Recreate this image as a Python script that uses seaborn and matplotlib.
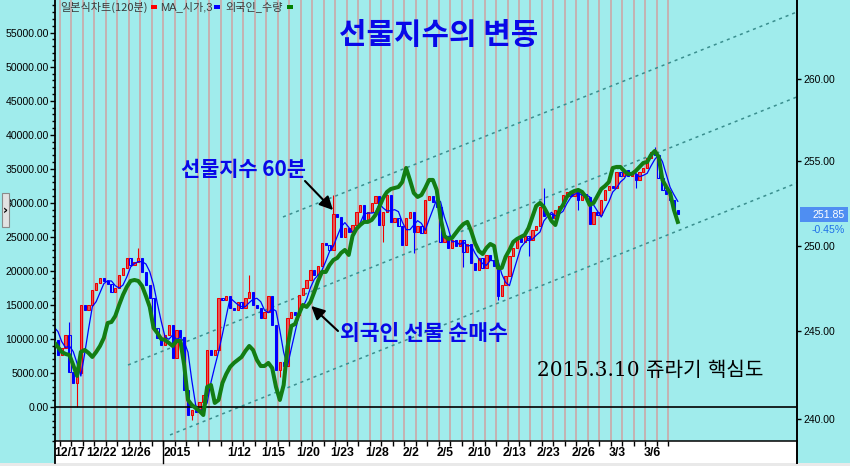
import numpy as np
import pandas as pd
import matplotlib
matplotlib.use("Agg")
import matplotlib.pyplot as plt
import seaborn as sns
from matplotlib import font_manager as fm
from matplotlib.patches import Rectangle
from matplotlib.lines import Line2D
from matplotlib.ticker import FixedLocator, NullLocator, MultipleLocator, FuncFormatter

# ---------------- data ----------------
trade_days = ["12/16", "12/17", "12/18", "12/19", "12/22", "12/23", "12/24", "12/26", "12/29", "12/30",
              "1/2", "1/5", "1/6", "1/7", "1/8", "1/9", "1/12", "1/13", "1/14", "1/15", "1/16",
              "1/19", "1/20", "1/21", "1/22", "1/23", "1/26", "1/27", "1/28", "1/29", "1/30",
              "2/2", "2/3", "2/4", "2/5", "2/6", "2/9", "2/10", "2/11", "2/12", "2/13", "2/16",
              "2/17", "2/23", "2/24", "2/25", "2/26", "2/27",
              "3/2", "3/3", "3/4", "3/5", "3/6", "3/9", "3/10"]
bars_per_day = 3

# KOSPI200 futures, 120-minute bars (close of each bar)
futures_open0 = 245.40
futures_close = [
    245.08, 244.51, 243.65,  244.05, 244.80, 242.67,  242.04, 242.61, 246.53,
    246.24, 246.53, 247.40,  247.81, 248.10, 247.92,  247.75, 247.28, 247.51,
    248.27, 248.69, 249.27,  248.86, 249.04, 249.27,  248.45, 247.69, 246.94,
    245.20, 244.62, 244.22,  244.80, 245.37, 243.47,  245.08, 244.68, 241.64,
    240.23, 240.51, 240.40,  240.96, 241.36, 243.93,  243.65, 243.93, 246.94,
    246.82, 247.05, 246.36,  246.24, 246.70, 246.36,  246.94, 247.28, 246.53,
    246.36, 245.78, 246.12,  247.05, 245.37, 242.78,  243.24, 243.01, 245.78,
    246.12, 245.95, 247.11,  247.51, 247.98, 248.57,  248.27, 248.80, 250.15,
    250.03, 249.74, 251.87,  251.69, 250.51, 251.04,  250.80, 251.21, 251.98,
    252.40, 251.39, 251.98,  252.52, 252.94, 251.21,  251.98, 253.00, 251.39,
    251.63, 251.16, 250.03,  251.63, 251.98, 250.80,  251.16, 250.74, 252.70,
    252.94, 252.58, 252.28,  250.21, 250.57, 249.86,  250.33, 249.98, 250.33,
    249.62, 250.09, 248.98,  248.57, 249.27, 248.69,  249.45, 249.15, 248.80,
    247.05, 247.69, 248.22,  249.39, 249.86, 250.45,  250.21, 250.57, 250.33,
    250.92, 251.16, 252.28,  251.75, 251.87, 251.63,  252.10, 252.34, 253.00,
    253.17, 252.94, 253.29,  252.70, 253.06, 252.88,  251.27, 251.98, 251.81,
    252.70, 253.29, 253.53,  253.41, 254.37, 254.13,  254.49, 254.13, 254.25,
    253.89, 254.37, 254.61,  255.21, 255.57, 255.39,  254.01, 253.29, 253.06,
    252.70, 252.10, 251.85,
]
# long shadows (bar index, high, low)
wick_bar = [5, 7, 23, 37, 52, 60, 74, 87, 95, 108, 117, 125, 129, 138, 153, 158]
wick_high = [245.55, None, 249.86, None, 248.27, None, 253.00, None, None, None,
             None, None, 253.41, None, None, 255.87]
wick_low = [None, 240.68, None, 239.94, None, 242.40, None, 250.21, 249.56, 248.75,
            246.82, 249.39, None, 252.10, 253.41, None]

# foreign net futures position (contracts), one value per bar
foreign_net = [
    9850, 9550, 8820, 8080, 7790, 7640, 6170, 4560, 8080, 8380,
    7940, 7350, 8080, 8960, 10140, 12340, 12490, 13370, 14990, 16460,
    17630, 18520, 18660, 18520, 17780, 16310, 14700, 11610, 10870, 9990,
    9850, 9400, 8960, 9700, 9700, 6170, 1030, 290, -150, -590,
    -1180, 2940, 3230, 590, 1030, 3530, 4850, 5880, 6470, 6910,
    7350, 8230, 8960, 8380, 6910, 6020, 6020, 6470, 5730, 2940,
    1030, 3230, 8820, 11900, 12200, 13670, 14990, 14700, 15430, 16900,
    18520, 19840, 19840, 20870, 21600, 21900, 22630, 23070, 22340, 25130,
    26160, 26740, 27190, 27190, 27480, 28210, 29390, 30710, 31590, 32030,
    32180, 32330, 33060, 35120, 33360, 31450, 30860, 31150, 32180, 33360,
    33360, 31890, 27770, 25130, 24690, 24830, 25570, 26300, 26890, 27190,
    25860, 24100, 22920, 22480, 23370, 23950, 23660, 20430, 20430, 22040,
    23070, 24250, 24690, 24980, 25280, 26300, 27920, 29540, 29980, 29390,
    28360, 27330, 26740, 28800, 29680, 30860, 31450, 31740, 31890, 31590,
    30860, 29680, 29980, 31010, 32030, 32480, 33060, 35120, 35270, 35270,
    34680, 34240, 34240, 34680, 35270, 35860, 36000, 37030, 37620, 36740,
    33360, 32330, 31450, 28950, 27190,
]

tick_days = ["12/17", "12/22", "12/26", "1/2", "1/12", "1/15", "1/20", "1/23", "1/28",
             "2/2", "2/5", "2/10", "2/13", "2/23", "2/26", "3/3", "3/6"]
tick_text = ["12/17", "12/22", "12/26", "2015", "1/12", "1/15", "1/20", "1/23", "1/28",
             "2/2", "2/5", "2/10", "2/13", "2/23", "2/26", "3/3", "3/6"]
left_ticks = [0, 5000, 10000, 15000, 20000, 25000, 30000, 35000, 40000, 45000, 50000, 55000]
right_ticks = [240, 245, 250, 255, 260]

# trend channel (day position, price)
channel_start_day = [20.44, 6.94, 10.60]
channel_start_price = [251.69, 243.07, 239.10]
channel_end_day = [65.2, 65.2, 65.2]
channel_end_price = [264.13, 258.90, 253.71]

last_price = 251.85
last_change = "-0.45%"
year_day = "1/2"

# ---------------- style ----------------
BG = "#A0ECEC"
GRID = "#C4B2B2"
UPF, UPE = "#E25A5A", "#F00000"
DNE = "#0000FF"
GREEN = "#137D13"
CHAN = "#3A8E8E"
BLUE_TXT = "#0808E8"

plt.rcParams["font.family"] = ["Liberation Sans", "Noto Sans CJK KR", "DejaVu Sans"]
names = {f.name for f in fm.fontManager.ttflist}
if "Liberation Sans Narrow" in names:
    XFAM, XSIZE = "Liberation Sans Narrow", 10
else:
    XFAM, XSIZE = "Liberation Sans", 8.8

W, H = 850, 466
def fx(x):
    return x / W
def fy(y):
    return 1 - y / H

fig = plt.figure(figsize=(W / 100, H / 100), dpi=100, facecolor=BG)
ax = fig.add_axes([fx(55), fy(441), fx(797) - fx(55), fy(0) - fy(441)])
ax.set_facecolor(BG)
ax2 = ax.twinx()
ax.yaxis.tick_right()
ax2.yaxis.tick_left()

n = len(futures_close)
xpos = np.arange(n) / bars_per_day + 1 / (2 * bars_per_day)
close = np.array(futures_close)
opens = np.r_[futures_open0, close[:-1]]
hi = np.maximum(opens, close)
lo = np.minimum(opens, close)
for b, h, l in zip(wick_bar, wick_high, wick_low):
    if h is not None:
        hi[b] = max(hi[b], h)
    if l is not None:
        lo[b] = min(lo[b], l)
up = close >= opens

# ---- price axes (right, log) ----
ax.set_yscale("log")
ax.set_xlim(0.58, 65.22)
ax.set_ylim(238.76, 264.88)

bounds = np.arange(1, len(trade_days))
ax.vlines(bounds, 0, 1, transform=ax.get_xaxis_transform(), color=GRID, lw=1.4, zorder=0.5)
for x0, p0, x1, p1 in zip(channel_start_day, channel_start_price, channel_end_day, channel_end_price):
    ax.plot([x0, x1], [p0, p1], color=CHAN, lw=1.1, ls=(0, (2, 2.6)), zorder=1)

edges = np.where(up, UPE, DNE)
faces = [UPF if u else (0, 0, 0, 0) for u in up]
ax.vlines(xpos, lo, hi, colors=edges, lw=0.8, zorder=2.9)
body_lo = np.minimum(opens, close)
body_h = np.maximum(np.abs(close - opens), 0.03)
ax.bar(xpos, body_h, bottom=body_lo, width=0.2, color=faces, edgecolor=edges, linewidth=0.75, zorder=3)

ma = pd.Series(opens).rolling(3, min_periods=1).mean().values
sns.lineplot(x=xpos, y=ma, ax=ax, color="#0000FF", lw=0.9, legend=False, zorder=4)

ax.yaxis.set_major_locator(FixedLocator(right_ticks))
ax.yaxis.set_major_formatter(FuncFormatter(lambda v, p: f"{v:.2f}"))
ax.yaxis.set_minor_locator(NullLocator())
ax.tick_params(axis="y", which="major", direction="out", length=2.9, width=1, pad=1.5,
               labelsize=7.5, colors="black")
ax.set_ylabel("")
ax.set_xlabel("")

# x axis
lab_pos = [trade_days.index(d) + 0.6 for d in tick_days]
lab_pos[0] = trade_days.index(tick_days[0]) + 0.85
lab_pos[tick_days.index(year_day)] = trade_days.index(year_day) + 0.05
ax.set_xticks(bounds, minor=True)
ax.set_xticks(lab_pos, labels=tick_text)
ax.tick_params(axis="x", which="major", length=0, pad=4.2)
ax.tick_params(axis="x", which="minor", length=3.8, width=1, color="black", direction="out")
for t in ax.get_xticklabels():
    t.set_fontfamily(XFAM)
    t.set_fontsize(XSIZE)
    t.set_fontweight("bold")
    if t.get_text() == "2015":
        t.set_ha("left")
yd = trade_days.index(year_day)
ax.plot([yd, yd], [0, -22 / 441], transform=ax.get_xaxis_transform(), clip_on=False,
        color="black", lw=1.0)

for s in ["top", "left"]:
    ax.spines[s].set_visible(False)
ax.spines["right"].set_linewidth(1.4)
ax.spines["bottom"].set_linewidth(1.1)

# ---- foreign axis (left) ----
ax2.set_ylim(-5000, 59800)
ax2.axhline(0, color="black", lw=1.2, zorder=1)
sns.lineplot(x=xpos, y=foreign_net, ax=ax2, color=GREEN, lw=2.9, legend=False, zorder=5)
ax2.yaxis.set_major_locator(FixedLocator(left_ticks))
ax2.yaxis.set_minor_locator(MultipleLocator(1000))
ax2.yaxis.set_major_formatter(FuncFormatter(lambda v, p: f"{v:.2f}"))
ax2.tick_params(axis="y", which="major", direction="out", length=3.6, width=1, pad=0.8,
                labelsize=7.6, colors="black")
ax2.tick_params(axis="y", which="minor", direction="out", length=2.0, width=1, colors="black")
ax2.set_ylabel("")
for s in ["top", "right", "bottom"]:
    ax2.spines[s].set_visible(False)
ax2.spines["left"].set_linewidth(1.3)

# ---- frame pieces ----
strip = Rectangle((fx(55), fy(463)), fx(797) - fx(55), fy(441) - fy(463),
                  transform=fig.transFigure, facecolor="white", edgecolor="none", zorder=-1)
fig.add_artist(strip)
fig.add_artist(Rectangle((0, 0), 1, fy(463), transform=fig.transFigure,
                         facecolor="#E9E9E9", edgecolor="none", zorder=-1))
for xx, lw in [(55, 1.3), (797, 1.4)]:
    fig.add_artist(Line2D([fx(xx), fx(xx)], [fy(441), fy(463)], transform=fig.transFigure,
                          color="black", lw=lw))

# legend line at top left
fig.text(fx(60), fy(7), "일본식차트(120분)", fontsize=8, color="#3A3A3A", va="center", ha="left",
         family=["Noto Sans CJK KR"])
fig.text(fx(160), fy(7), "MA_시가,3", fontsize=8, color="#3A3A3A", va="center", ha="left",
         family=["Liberation Sans", "Noto Sans CJK KR"])
fig.text(fx(225), fy(7), "외국인_수량", fontsize=8, color="#3A3A3A", va="center", ha="left",
         family=["Noto Sans CJK KR"])
for xx, c in [(151, "#FF0000"), (214, "#0000FF"), (287, "#008000")]:
    fig.add_artist(Rectangle((fx(xx), fy(8.5)), 6 / W, 3 / H, transform=fig.transFigure,
                             facecolor=c, edgecolor="none"))

# side button (drawn over the axis labels, as in the source screenshot)
fig.add_artist(Rectangle((fx(2), fy(227)), 7 / W, 34 / H, transform=fig.transFigure,
                         facecolor="#E2E2E2", edgecolor="#8A8A8A", lw=0.8, zorder=10))
fig.text(fx(5.5), fy(210), "›", fontsize=9, fontweight="bold", ha="center", va="center",
         family=["DejaVu Sans"], color="black", zorder=11)

# last price box
fig.add_artist(Rectangle((fx(800), fy(222)), 48 / W, 15 / H, transform=fig.transFigure,
                         facecolor="#4F8EF2", edgecolor="none"))
fig.text(fx(845), fy(214.5), f"{last_price:.2f}", fontsize=7.6, color="white", ha="right", va="center")
fig.text(fx(845), fy(230), last_change, fontsize=7.6, color="#1F6FE8", ha="right", va="center")

# titles and notes
fig.text(fx(439), fy(35), "선물지수의 변동", ha="center", va="center", fontsize=21.5,
         fontweight="bold", color=BLUE_TXT, family=["Noto Sans CJK KR"])
fig.text(fx(181), fy(170), "선물지수 60분", ha="left", va="center", fontsize=15,
         fontweight="bold", color=BLUE_TXT, family=["Noto Sans CJK KR"])
fig.text(fx(340), fy(334), "외국인 선물 순매수", ha="left", va="center", fontsize=15.5,
         fontweight="bold", color=BLUE_TXT, family=["Noto Sans CJK KR"])
fig.text(fx(537), fy(371), "2015.3.10 쥬라기 핵심도", ha="left", va="center", fontsize=14.5,
         color="black", family=["DejaVu Serif", "Noto Sans CJK KR"])

ax.annotate("", xy=(24.8, 252.1), xycoords="data", xytext=(fx(305), fy(181)),
            textcoords="figure fraction",
            arrowprops=dict(arrowstyle="-|>", color="black", lw=1.5, mutation_scale=20,
                            shrinkA=0, shrinkB=0), zorder=6)
ax2.annotate("", xy=(22.9, 14840), xycoords="data", xytext=(fx(338), fy(331)),
             textcoords="figure fraction",
             arrowprops=dict(arrowstyle="-|>", color="black", lw=1.5, mutation_scale=20,
                             shrinkA=0, shrinkB=0), zorder=6)

fig.savefig("out.png", dpi=100, facecolor=BG)
